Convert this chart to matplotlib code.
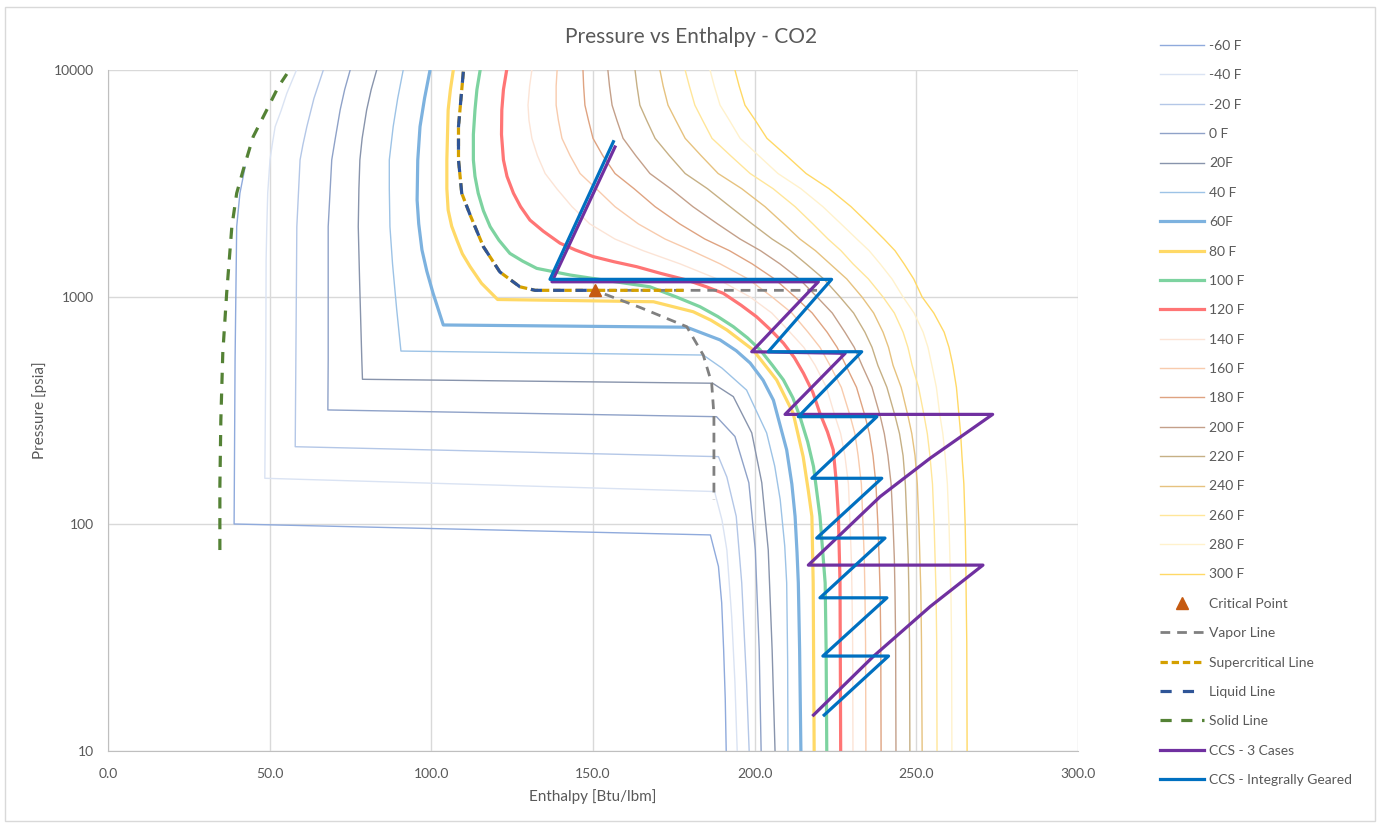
import matplotlib
matplotlib.use('Agg')
import matplotlib.pyplot as plt
from matplotlib.patches import Rectangle
from matplotlib.ticker import NullLocator

plt.rcParams['font.family'] = ['Lato', 'DejaVu Sans']

# ---- isotherms, enthalpy [Btu/lbm] vs pressure [psia] ----
h_m60 = [42.4, 40.8, 39.8, 39.3, 39.0, 186.3, 188.8, 189.8, 190.4, 190.9, 191.2]
p_m60 = [3740, 2865, 2040, 527, 100, 89.5, 65, 45, 28, 17, 10]
h_m40 = [58.3, 55.3, 53.5, 51.7, 50.8, 50.1, 49.4, 49.1, 48.9, 48.8, 48.5,
         187.6, 189.9, 191.4, 192.9, 193.9, 194.6]
p_m40 = [10000, 7890, 6600, 5630, 4700, 4018, 2870, 2000, 1455, 527, 159,
         139, 104, 76.8, 39, 20, 10]
h_m20 = [66.6, 63.7, 61.5, 60.3, 59.4, 58.4, 58.1, 57.9, 188.8, 191.4, 194.3, 196.0, 197.5, 198.3]
p_m20 = [10000, 7500, 5630, 4700, 4018, 2040, 527, 219, 198, 161, 108, 55, 20, 10]
h_0 = [74.9, 73.2, 71.8, 70.3, 69.2, 68.1, 68.1, 68.0, 188.2, 193.9, 198.2, 200.2, 201.4, 202.0]
p_0 = [10000, 8200, 6670, 5000, 4018, 2040, 527, 318, 297, 243, 152, 76.8, 27.9, 10]
h_20 = [83.1, 81.4, 80.0, 78.6, 77.9, 77.6, 77.4, 77.8, 78.5, 78.7, 187.0, 193.4, 199.1, 202.2,
        204.2, 205.4, 206.3]
p_20 = [10000, 8200, 6670, 5000, 4018, 3000, 2040, 1200, 527, 434, 417, 364, 252, 152, 76.8,
        27.9, 10]
h_40 = [91.3, 89.6, 88.2, 87.0, 87.0, 87.2, 88.0, 89.3, 90.6, 184.1, 189.9, 197.5, 203.7, 206.2,
        207.9, 209.3, 209.9, 210.2, 210.3]
p_40 = [10000, 7500, 5630, 4018, 3000, 2040, 1400, 877, 578, 555, 486, 389, 252, 180, 128, 80,
        55, 25, 10]
h_60 = [99.6, 97.9, 96.5, 95.8, 95.6, 96.1, 97.1, 98.6, 100.5, 103.7, 179.0, 189.3, 194.3,
        198.6, 202.6, 205.8, 209.9, 211.5, 212.5, 213.1, 213.5, 213.9, 214.3]
p_60 = [10000, 7500, 5630, 4000, 2673, 2100, 1612, 1300, 1043, 753, 736, 647, 580, 512, 430,
        351, 212, 150, 108, 75, 55, 28, 10]
h_80 = [106.8, 105.9, 105.2, 104.8, 104.8, 105.2, 106.3, 107.9, 109.6, 112.0, 115.5, 120.5,
        168.7, 181.0, 186.5, 191.4, 199.5, 206.8, 211.9, 215.0, 216.6, 217.7, 218.1, 218.4]
p_80 = [10000, 8200, 6670, 4018, 3000, 2415, 2050, 1782, 1550, 1360, 1150, 975,
        953, 861, 790, 716, 585, 431, 308, 198, 140, 108, 55, 10]
h_100 = [115.1, 114.1, 113.5, 113.0, 113.0, 113.5, 114.5, 116.1, 118.2, 120.9, 124.3, 128.2,
         132.6, 142.9, 153.2, 167.6, 175.8, 183.1, 188.6, 193.4, 197.8, 201.7, 205.5, 208.9,
         211.8, 214.0, 216.4, 218.2, 220.2, 221.8, 222.1, 222.3]
p_100 = [10000, 8200, 6670, 5200, 4018, 3400, 2865, 2400, 2040, 1780, 1556, 1440,
         1337, 1250, 1188, 1109, 1000, 906, 820, 740, 660, 585, 500, 431,
         360, 297, 230, 179, 108, 55, 28, 10]
h_120 = [123.3, 122.3, 121.8, 121.7, 122.3, 123.4, 125.4, 127.6, 130.5, 134.6, 139.8, 144.6,
         150.1, 156.5, 163.5, 171.0, 179.0, 185.0, 190.3, 195.8, 200.6, 205.0, 208.9, 212.3,
         215.1, 218.0, 220.2, 222.5, 224.3, 225.3, 225.9, 226.4, 226.6]
p_120 = [10000, 8200, 6670, 5200, 4018, 3400, 2865, 2500, 2182, 1950, 1726, 1610,
         1506, 1430, 1360, 1270, 1188, 1110, 1038, 920, 818, 715, 626, 540,
         461, 380, 307, 255, 212, 150, 108, 55, 10]

# hotter isotherms share one pressure list
p_hot = [10000, 8500, 7000, 6000, 5000, 4200, 3500, 3000, 2500, 2100, 1800, 1600, 1400, 1200,
         1000, 850, 700, 600, 500, 400, 300, 250, 200, 150, 100, 70, 50, 30, 10]
h_140 = [131.1, 130.4, 129.9, 130.2, 131.1, 132.8, 135.2, 138.8, 143.5, 149.0, 156.8, 165.5,
         176.9, 188.5, 198.6, 205.3, 210.9, 215.2, 218.7, 222.2, 224.8, 226.6, 227.9, 229.0,
         229.5, 229.9, 230.1, 230.3, 230.4]
h_160 = [138.9, 138.6, 138.6, 139.3, 140.4, 142.9, 146.0, 151.0, 156.8, 164.0, 172.3, 180.5,
         189.3, 198.0, 205.4, 211.5, 216.5, 220.2, 223.3, 226.8, 229.5, 231.0, 232.0, 233.0,
         233.5, 233.9, 234.1, 234.3, 234.4]
h_180 = [146.9, 147.1, 147.5, 148.6, 150.0, 153.0, 156.8, 162.7, 169.2, 176.8, 184.6, 192.2,
         199.2, 206.2, 212.5, 217.8, 222.4, 225.5, 228.2, 231.5, 234.1, 235.5, 236.6, 237.5,
         238.1, 238.5, 238.8, 239.0, 239.1]
h_200 = [154.6, 155.1, 155.9, 157.4, 159.3, 163.2, 167.6, 174.0, 180.9, 188.5, 195.5, 201.8,
         207.8, 213.8, 219.3, 224.0, 227.9, 230.8, 233.2, 236.3, 238.8, 240.1, 241.2, 242.2,
         242.8, 243.2, 243.4, 243.6, 243.7]
h_220 = [163.0, 163.6, 164.5, 166.6, 169.2, 173.6, 178.5, 185.4, 192.4, 199.2, 205.4, 211.0,
         215.9, 221.4, 226.4, 230.6, 234.1, 236.3, 238.1, 240.9, 243.4, 244.8, 245.9, 246.6,
         247.1, 247.5, 247.7, 247.9, 248.0]
h_240 = [170.7, 171.7, 173.2, 175.6, 178.5, 183.4, 188.7, 196.0, 203.2, 209.0, 214.0, 218.8,
         223.3, 228.5, 233.2, 236.8, 239.7, 241.4, 242.8, 245.3, 247.4, 248.6, 249.6, 250.3,
         250.8, 251.1, 251.4, 251.6, 251.8]
h_260 = [178.5, 179.8, 181.5, 183.9, 186.8, 192.5, 198.6, 205.7, 212.5, 218.0, 222.7, 226.7,
         230.4, 235.2, 239.7, 243.2, 245.9, 247.4, 248.7, 250.7, 252.4, 253.4, 254.2, 255.0,
         255.5, 255.8, 256.1, 256.3, 256.4]
h_280 = [186.2, 187.5, 189.3, 192.2, 195.5, 201.2, 207.2, 214.3, 221.1, 226.7, 231.6, 235.4,
         238.8, 242.5, 245.9, 249.3, 252.1, 253.6, 254.8, 256.2, 257.3, 258.2, 258.9, 259.6,
         260.1, 260.4, 260.7, 260.9, 261.0]
h_300 = [193.9, 195.2, 197.0, 200.2, 203.8, 209.8, 215.9, 223.0, 229.8, 235.3, 240.0, 243.4,
         246.2, 249.2, 251.8, 255.4, 258.6, 260.1, 261.3, 262.4, 263.2, 263.7, 264.1, 264.7,
         265.1, 265.3, 265.4, 265.6, 265.7]

# ---- phase boundaries ----
crit_h = [150.5]
crit_p = [1070]
vapor_h = [219.3, 150.5, 164.6, 179.0, 184.1, 186.7, 187.4, 187.4]
vapor_p = [1070, 1070, 899, 740, 555, 418, 302, 128]
super_h = [109.9, 108.4, 108.4, 109.4, 112.0, 116.1, 121.2, 127.4, 132.1, 150.5, 178.8]
super_p = [9830, 5630, 4018, 2865, 2297, 1666, 1289, 1109, 1070, 1070, 1070]
liquid_h = [109.9, 108.4, 108.4, 109.4, 112.0, 116.1, 121.2, 127.4, 132.1, 150.5]
liquid_p = [9830, 5630, 4018, 2865, 2297, 1666, 1289, 1109, 1070, 1070]
solid_h = [34.6, 34.6, 34.9, 35.5, 36.7, 38.3, 39.8, 41.8, 44.9, 49.1, 52.7, 55.3]
solid_p = [76.8, 146, 287, 566, 1038, 2040, 2865, 3622, 5082, 6670, 8443, 9603]

# ---- compression paths ----
ccs3_h = [156.8, 137.3, 219.7, 199.1, 228.0, 209.4, 273.6, 254.3, 238.8, 216.6, 270.6,
          254.3, 236.7, 218.2]
ccs3_p = [4580, 1167, 1167, 574, 565, 304, 304, 195, 132, 65.9, 65.9, 43.3, 26.1, 14.4]
ccsig_h = [156.3, 136.7, 223.8, 204.2, 233.1, 213.5, 237.8, 217.7, 239.3, 219.2, 240.3,
           220.2, 240.9, 221.1, 241.4, 221.5]
ccsig_p = [4831, 1196, 1196, 574, 574, 297, 297, 159, 159, 86.7, 86.7, 47.3, 47.3, 26.2,
           26.2, 14.4]

iso_labels = ['-60 F', '-40 F', '-20 F', '0 F', '20F', '40 F', '60F', '80 F', '100 F', '120 F',
              '140 F', '160 F', '180 F', '200 F', '220 F', '240 F', '260 F', '280 F', '300 F']
iso_h = [h_m60, h_m40, h_m20, h_0, h_20, h_40, h_60, h_80, h_100, h_120,
         h_140, h_160, h_180, h_200, h_220, h_240, h_260, h_280, h_300]
iso_p = [p_m60, p_m40, p_m20, p_0, p_20, p_40, p_60, p_80, p_100, p_120] + [p_hot] * 9
iso_colors = ['#8FAADC', '#DAE3F3', '#B4C7E7', '#8FA2C8', '#8894AC', '#9DC3E6', '#7DB2DF',
              '#FFD966', '#7DD3A0', '#FF7575', '#FCE4D6', '#F8CBAD', '#DFA381', '#C4A08A',
              '#C6B085', '#E6C27F', '#FFE699', '#FFF2CC', '#FFD966']
iso_lw = [1.0] * 6 + [2.3] * 4 + [1.0] * 9

fig = plt.figure(figsize=(13.78, 8.25), dpi=100)
ax = fig.add_axes([108 / 1378, 1 - 751 / 825, 970 / 1378, 681 / 825])

for lab, hh, pp, c, lw in zip(iso_labels, iso_h, iso_p, iso_colors, iso_lw):
    ax.plot(hh, pp, color=c, lw=lw, label=lab, solid_joinstyle='round')

ax.plot(crit_h, crit_p, ls='none', marker='^', ms=9, color='#C55A11', label='Critical Point', zorder=5)
ax.plot(vapor_h, vapor_p, color='#808080', lw=2, dashes=(3.5, 2.5), label='Vapor Line')
ax.plot(super_h, super_p, color='#D4A000', lw=2.3, dashes=(2.3, 1.2), label='Supercritical Line')
ax.plot(liquid_h, liquid_p, color='#2F5597', lw=2.3, dashes=(3.5, 3.5), label='Liquid Line')
ax.plot(solid_h, solid_p, color='#548235', lw=2.3, dashes=(3.5, 3.0), label='Solid Line')
ax.plot(ccs3_h, ccs3_p, color='#7030A0', lw=2.3, label='CCS - 3 Cases')
ax.plot(ccsig_h, ccsig_p, color='#0070C0', lw=2.3, label='CCS - Integrally Geared')

ax.set_yscale('log')
ax.set_xlim(0, 300)
ax.set_ylim(10, 10000)
ax.set_xticks([0, 50, 100, 150, 200, 250, 300])
ax.set_xticklabels(['0.0', '50.0', '100.0', '150.0', '200.0', '250.0', '300.0'])
ax.set_yticks([10, 100, 1000, 10000])
ax.set_yticklabels(['10', '100', '1000', '10000'])
ax.yaxis.set_minor_locator(NullLocator())
ax.grid(True, color='#D9D9D9', lw=1)
ax.set_axisbelow(True)
ax.tick_params(length=0, colors='#595959', labelsize=10)
ax.tick_params(axis='x', pad=12)
ax.tick_params(axis='y', pad=10)
for s in ['top', 'right']:
    ax.spines[s].set_visible(False)
for s in ['left', 'bottom']:
    ax.spines[s].set_color('#BFBFBF')

fig.text(691 / 1378, 1 - 37 / 825, 'Pressure vs Enthalpy - CO2', ha='center', va='center',
         fontsize=15, color='#595959')
fig.text(593 / 1378, 1 - 797 / 825, 'Enthalpy [Btu/lbm]', ha='center', va='center',
         fontsize=11, color='#595959')
fig.text(40 / 1378, 1 - 410 / 825, 'Pressure [psia]', ha='center', va='center',
         rotation=90, fontsize=11, color='#595959')

handles, labels = ax.get_legend_handles_labels()
leg = fig.legend(handles, labels, loc='upper left', bbox_to_anchor=(1160 / 1378, 1 - 40 / 825),
                 frameon=False, fontsize=10, handlelength=3.2, handletextpad=0.35,
                 labelspacing=1.25, borderaxespad=0, borderpad=0)
for t in leg.get_texts():
    t.set_color('#595959')

fig.add_artist(Rectangle((5 / 1378, 4 / 825), 1370 / 1378, 814 / 825, transform=fig.transFigure,
                         fill=False, edgecolor='#D9D9D9', lw=1))

fig.savefig('out.png', dpi=100)
